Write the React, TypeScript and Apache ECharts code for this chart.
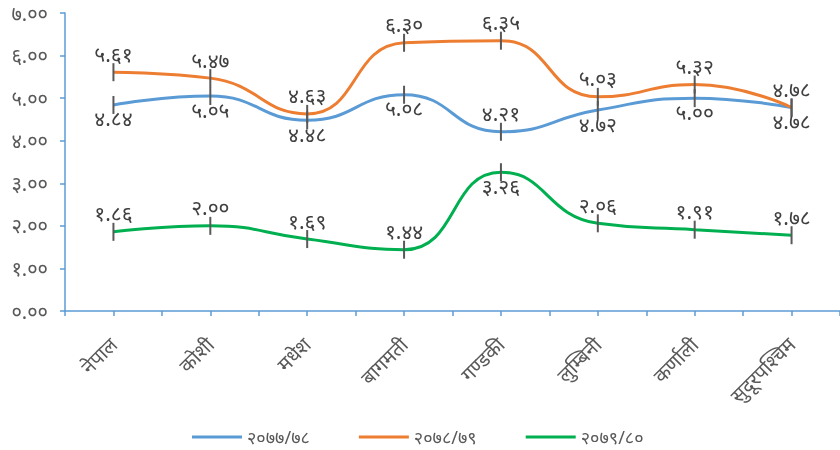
import React, { useEffect, useRef } from "react";
import * as echarts from "echarts";

const categories = ["नेपाल", "कोशी", "मधेश", "बागमती", "गण्डकी", "लुम्बिनी", "कर्णाली", "सुदूरपश्चिम"];
const seriesNames = ["२०७७/७८", "२०७८/७९", "२०७९/८०"];
const values7778 = [4.84, 5.05, 4.48, 5.08, 4.21, 4.72, 5.0, 4.78];
const values7879 = [5.61, 5.47, 4.63, 6.3, 6.35, 5.03, 5.32, 4.78];
const values7980 = [1.86, 2.0, 1.69, 1.44, 3.26, 2.06, 1.91, 1.78];
const yTicks = [0, 1, 2, 3, 4, 5, 6, 7];

const colors = ["#5B9BD5", "#ED7D31", "#00B050"];
const FONT = "'Noto Sans', 'Noto Sans Devanagari', sans-serif";

const dev = (s: string) => s.replace(/[0-9]/g, (d) => String.fromCharCode(0x966 + Number(d)));

export default function App() {
  const ref = useRef<HTMLDivElement>(null);
  useEffect(() => {
    if (!ref.current) return;
    const chart = echarts.init(ref.current, undefined, { renderer: "svg" });
    const mkData = (vals: number[], pos: (i: number) => string) =>
      vals.map((v, i) => {
        const p = pos(i);
        return { value: v, label: { position: p, distance: p === "top" ? -1 : -6 } };
      });
    const mkSeries = (name: string, color: string, data: any[]) => ({
      name,
      type: "line",
      smooth: 0.5,
      data,
      symbol: "rect",
      symbolSize: [2, 18],
      itemStyle: { color: "#595959" },
      lineStyle: { color, width: 3 },
      label: {
        show: true,
        formatter: (p: any) => dev(Number(p.value).toFixed(2)),
        color: "#404040",
        fontSize: 21,
        fontFamily: FONT,
      },
      z: 3,
    });
    chart.setOption({
      animation: false,
      grid: { left: 65, top: 13, right: 0, bottom: 139, containLabel: false },
      legend: {
        left: 187,
        top: 422,
        itemWidth: 50,
        itemHeight: 3,
        itemGap: 49,
        textStyle: { color: "#595959", fontSize: 18, lineHeight: 20, fontFamily: FONT },
        data: seriesNames.map((n, i) => ({ name: n, icon: "rect", itemStyle: { color: colors[i] } })),
      },
      xAxis: [
        {
          type: "category",
          data: categories,
          boundaryGap: true,
          axisLine: { lineStyle: { color: "#5B9BD5", width: 1.5 } },
          axisTick: { show: false },
          axisLabel: {
            rotate: 45,
            color: "#595959",
            fontSize: 20,
            fontFamily: FONT,
            margin: 30,
            interval: 0,
          },
        },
        {
          type: "category",
          data: Array.from({ length: categories.length * 2 }, (_, i) => String(i)),
          boundaryGap: true,
          position: "bottom",
          axisLine: { show: false },
          axisTick: { show: true, length: 5, lineStyle: { color: "#5B9BD5", width: 1.5 } },
          axisLabel: { show: false },
        },
      ],
      yAxis: {
        type: "value",
        min: yTicks[0],
        max: yTicks[yTicks.length - 1],
        interval: 1,
        splitLine: { show: false },
        axisLine: { show: true, lineStyle: { color: "#5B9BD5", width: 1.5 } },
        axisTick: { show: true, length: 5, lineStyle: { color: "#5B9BD5", width: 1.5 } },
        axisLabel: {
          color: "#595959",
          fontSize: 20,
          fontFamily: FONT,
          margin: 17,
          formatter: (v: number) => dev(v.toFixed(2)),
        },
      },
      series: [
        mkSeries(seriesNames[0], colors[0], mkData(values7778, (i) => (i === 4 ? "top" : "bottom"))),
        mkSeries(seriesNames[1], colors[1], mkData(values7879, () => "top")),
        mkSeries(seriesNames[2], colors[2], mkData(values7980, (i) => (i === 4 ? "bottom" : "top"))),
      ],
    });
    return () => chart.dispose();
  }, []);
  return <div ref={ref} style={{ position: "fixed", left: 0, top: 0, width: 840, height: 450 }} />;
}
